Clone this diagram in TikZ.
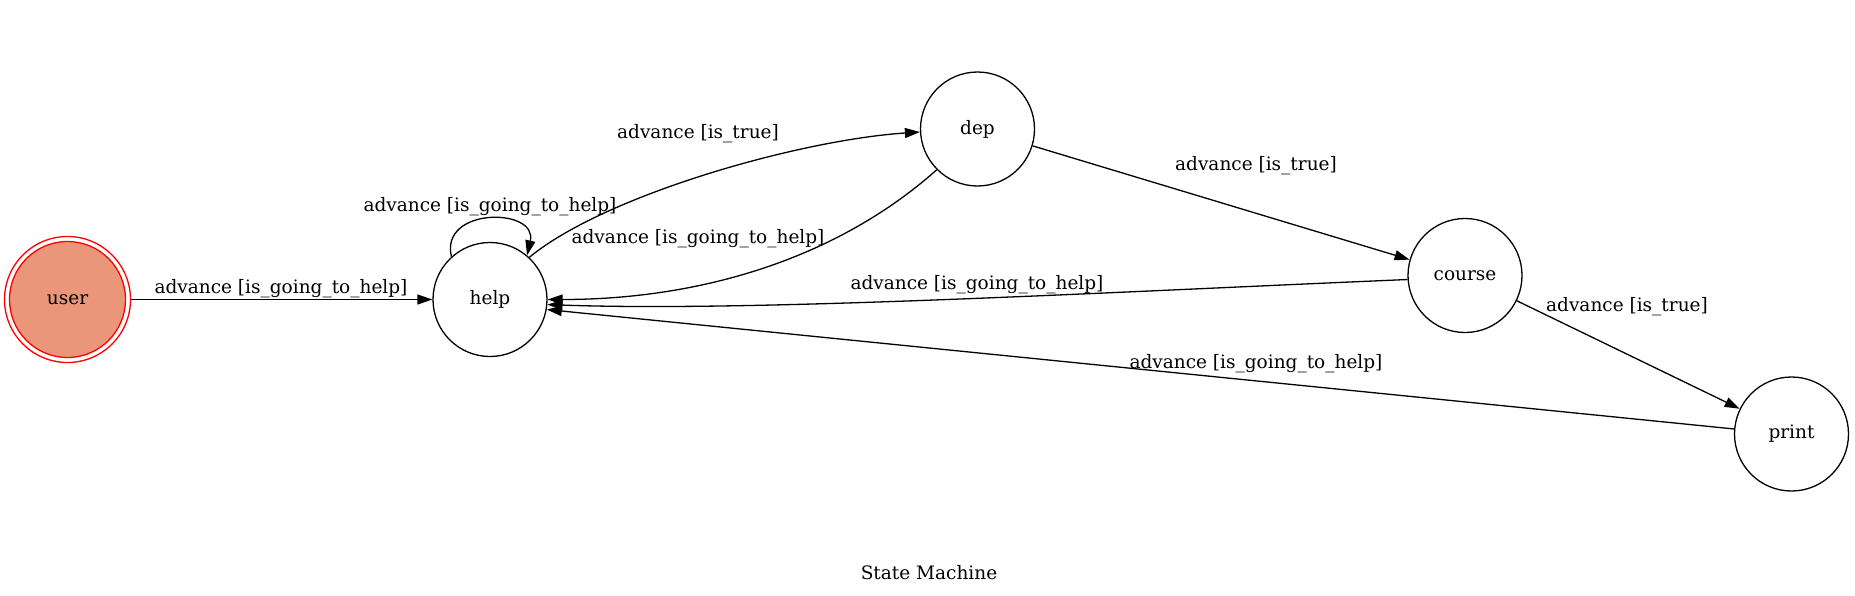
\documentclass[tikz,border=0pt]{standalone}
\usepackage{fontspec}
\setmainfont{DejaVu Serif}
\usetikzlibrary{arrows.meta}
\definecolor{dsalmon}{RGB}{233,150,122}
\begin{document}
\begin{tikzpicture}[x=1pt,y=-1pt,
  every node/.style={font=\fontsize{18.5}{22}\selectfont, inner sep=0pt},
  state/.style={circle, draw=black, line width=1.3pt, minimum size=114pt},
  edge/.style={draw=black, line width=1.3pt, -{Triangle[length=15pt,width=10pt]}},
  lbl/.style={anchor=center}]
\useasboundingbox (0,0) rectangle (1855,595);
% nodes
\node[circle, draw=red, line width=1.3pt, minimum size=126pt] (user) at (67.5,299.5) {};
\node[circle, draw=red, fill=dsalmon, line width=1.3pt, minimum size=116pt] (userin) at (67.5,299.5) {user};
\node[state] (help) at (490,299.5) {help};
\node[state] (dep) at (977.5,129) {dep};
\node[state] (course) at (1465,275.5) {course};
\node[state] (print) at (1791.5,434) {print};
% edges
\draw[edge] (user.east) -- (help.west);
\draw[edge] (help.132) .. controls +(-12,-50) and +(11,-48) .. (help.50);
\draw[edge] (help.47) .. controls +(75,-62) and +(-121,8) .. (dep.183);
\draw[edge] (dep.225) .. controls +(-100,89) and +(153,0) .. (help.0);
\draw[edge] (dep.343) -- (course.164);
\draw[edge] (course.184) .. controls +(-308,13) and +(203,7.5) .. (help.355);
\draw[edge] (course.334) -- (print.154);
\draw[edge] (print.175) -- (help.350);
% labels
\node[lbl] (l1) at (281,289) {advance [is\_going\_to\_help]};
\node[lbl] (l2) at (490,207) {advance [is\_going\_to\_help]};
\node[lbl] (l3) at (698,134) {advance [is\_true]};
\node[lbl] (l4) at (698,239) {advance [is\_going\_to\_help]};
\node[lbl] (l5) at (1256,166) {advance [is\_true]};
\node[lbl] (l6) at (977,285) {advance [is\_going\_to\_help]};
\node[lbl] (l7) at (1627,307) {advance [is\_true]};
\node[lbl] (l8) at (1256,364) {advance [is\_going\_to\_help]};
\node[lbl] (title) at (929,573) {State Machine};
\end{tikzpicture}
\end{document}
